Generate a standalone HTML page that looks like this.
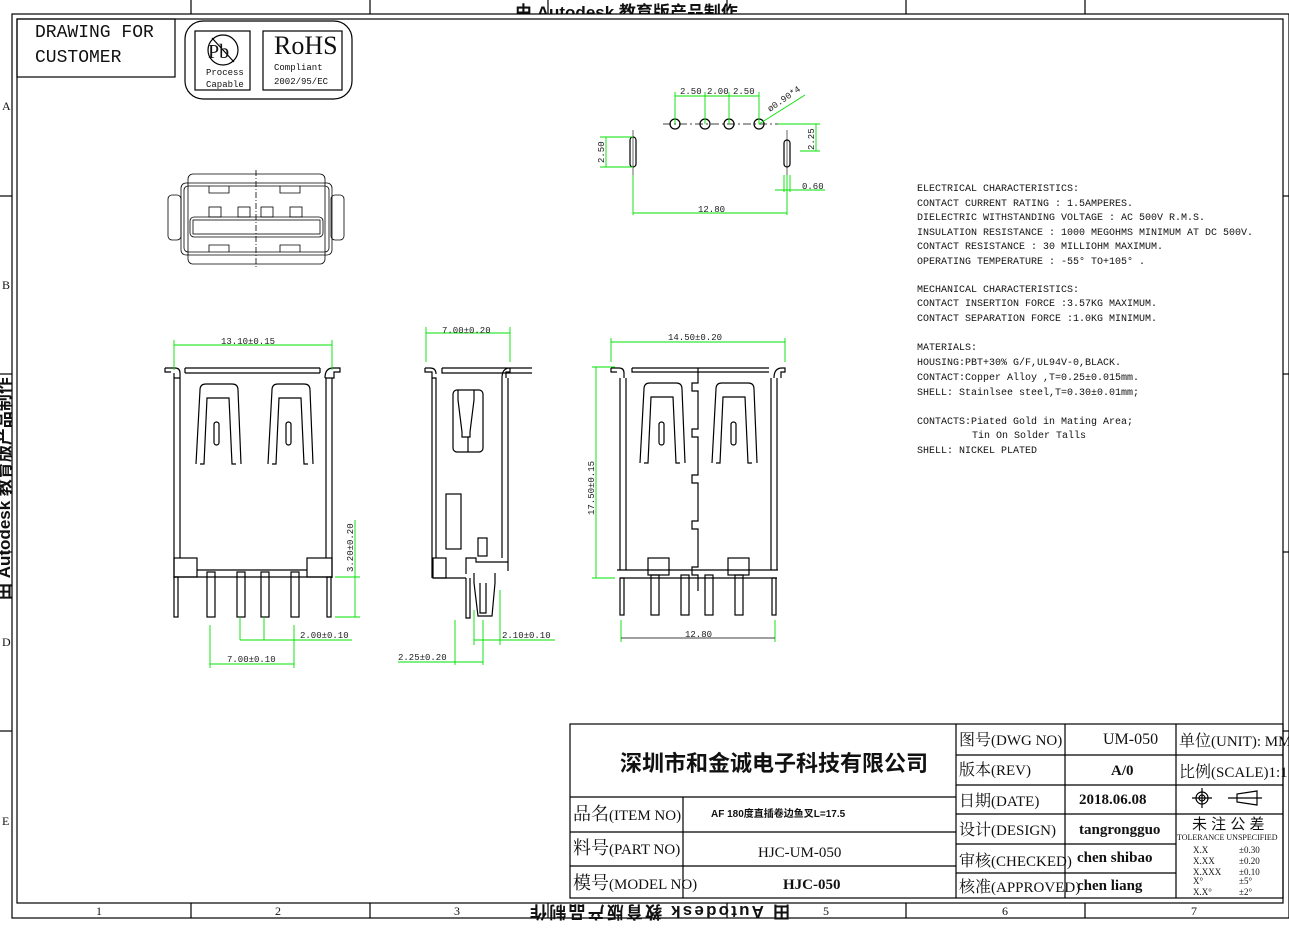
<!DOCTYPE html>
<html><head><meta charset="utf-8"><style>
html,body{margin:0;padding:0;background:#fff;}
svg{display:block;}
.k{stroke:#000;fill:none;stroke-width:1.2}
.t{stroke:#000;fill:none;stroke-width:0.8}
.g{stroke:#00e000;fill:none;stroke-width:0.9}
.gt{fill:#222;font-family:"Liberation Mono",monospace;font-size:9px}
.m{font-family:"Liberation Mono","Noto Sans CJK SC",monospace;fill:#111}
.s{font-family:"Liberation Serif","Noto Serif CJK SC",serif;fill:#111}
.c{font-family:"Liberation Sans","Noto Sans CJK SC",sans-serif;fill:#111}
</style></head><body>
<svg width="1289" height="929" viewBox="0 0 1289 929" xmlns="http://www.w3.org/2000/svg">
<text class="c" font-size="17" font-weight="bold" x="515" y="18">由 Autodesk 教育版产品制作</text>
<rect x="12" y="14" width="1277" height="904" fill="#fff" stroke="none"/>
<!-- frame -->
<rect x="12" y="14" width="1277" height="904" class="k" stroke-width="1"/>
<rect x="17" y="19" width="1266" height="884" class="k" stroke-width="1.5"/>
<g class="k" stroke-width="1">
<line x1="191" y1="0" x2="191" y2="14"/><line x1="370" y1="0" x2="370" y2="14"/><line x1="548" y1="0" x2="548" y2="14"/><line x1="727" y1="0" x2="727" y2="14"/><line x1="906" y1="0" x2="906" y2="14"/><line x1="1085" y1="0" x2="1085" y2="14"/>
<line x1="191" y1="903" x2="191" y2="918"/><line x1="370" y1="903" x2="370" y2="918"/><line x1="548" y1="903" x2="548" y2="918"/><line x1="727" y1="903" x2="727" y2="918"/><line x1="906" y1="903" x2="906" y2="918"/><line x1="1085" y1="903" x2="1085" y2="918"/>
<line x1="0" y1="196" x2="12" y2="196"/><line x1="0" y1="374" x2="12" y2="374"/><line x1="0" y1="552" x2="12" y2="552"/><line x1="0" y1="731" x2="12" y2="731"/>
<line x1="1283" y1="196" x2="1289" y2="196"/><line x1="1283" y1="374" x2="1289" y2="374"/><line x1="1283" y1="552" x2="1289" y2="552"/><line x1="1283" y1="731" x2="1289" y2="731"/>
</g>
<g class="s" font-size="12">
<text x="2" y="110">A</text><text x="2" y="289">B</text><text x="2" y="646">D</text><text x="2" y="825">E</text>
<text x="96" y="915">1</text><text x="275" y="915">2</text><text x="454" y="915">3</text><text x="823" y="915">5</text><text x="1002" y="915">6</text><text x="1191" y="915">7</text>
</g>
<text class="c" font-size="17" font-weight="bold" transform="translate(10,600) rotate(-90)">田 Autodesk 教育版产品制作</text>
<text class="c" font-size="17" font-weight="bold" transform="translate(790,906) rotate(180)" textLength="260">田 Autodesk 教育版产品制作</text>
<!-- title corner -->
<rect x="17" y="19" width="158" height="58" class="k"/>
<text class="m" style="font-size:18px" x="35" y="37">DRAWING FOR</text>
<text class="m" style="font-size:18px" x="35" y="62">CUSTOMER</text>
<rect x="185" y="21" width="167" height="78" rx="18" class="k"/>
<rect x="195" y="31" width="55" height="59" class="k"/>
<rect x="263" y="31" width="79" height="59" class="k"/>
<circle cx="223" cy="50" r="15" class="k"/><line x1="212" y1="38" x2="234" y2="62" class="k"/>
<text class="s" font-size="20" x="208" y="58">Pb</text>
<text class="m" style="font-size:9px" x="206" y="75">Process</text><text class="m" style="font-size:9px" x="206" y="87">Capable</text>
<text class="s" font-size="26" x="274" y="54">RoHS</text>
<text class="m" style="font-size:9px" x="274" y="70">Compliant</text><text class="m" style="font-size:9px" x="274" y="84">2002/95/EC</text>

<!-- end view (top left) -->
<g class="t">
<rect x="188" y="174" width="137" height="90" rx="5"/>
<rect x="181" y="183" width="151" height="72" rx="5"/>
<rect x="184" y="186" width="145" height="66" rx="4"/>
<rect x="168" y="195" width="13" height="45" rx="4"/>
<rect x="331" y="195" width="13" height="45" rx="4"/>
<rect x="190" y="217" width="133" height="20" rx="4"/>
<rect x="193" y="220" width="127" height="14"/>
<rect x="209" y="207" width="12" height="10"/><rect x="238" y="207" width="12" height="10"/><rect x="261" y="207" width="12" height="10"/><rect x="290" y="207" width="12" height="10"/>
<path d="M209 186 v7 h20 v-7 M280 186 v7 h20 v-7 M209 252 v-7 h20 v7 M280 252 v-7 h20 v7"/>
<line x1="256" y1="170" x2="256" y2="268" stroke-dasharray="6,2,1,2"/>
</g>

<!-- footprint -->
<g class="k">
<line x1="663" y1="124" x2="782" y2="124" stroke-dasharray="8,3,2,3" stroke-width="0.8"/>
<circle cx="675" cy="124" r="5"/><circle cx="705" cy="124" r="5"/><circle cx="729" cy="124" r="5"/><circle cx="759" cy="124" r="5"/>
<rect x="630" y="137" width="6" height="30" rx="3"/><rect x="784" y="140" width="6" height="27" rx="3"/>
<line x1="633" y1="130" x2="633" y2="175" stroke-width="0.6"/><line x1="787" y1="130" x2="787" y2="175" stroke-width="0.6"/>
</g>
<g class="g">
<line x1="675" y1="92" x2="675" y2="124"/><line x1="705" y1="92" x2="705" y2="124"/><line x1="729" y1="92" x2="729" y2="124"/><line x1="759" y1="92" x2="759" y2="124"/>
<line x1="675" y1="96" x2="759" y2="96"/>
<line x1="759" y1="124" x2="805" y2="95"/>
<line x1="600" y1="137" x2="633" y2="137"/><line x1="600" y1="167" x2="633" y2="167"/><line x1="606" y1="137" x2="606" y2="167"/>
<line x1="778" y1="124" x2="820" y2="124"/><line x1="800" y1="151" x2="820" y2="151"/><line x1="816" y1="124" x2="816" y2="151"/>
<line x1="633" y1="175" x2="633" y2="215"/><line x1="787" y1="175" x2="787" y2="215"/><line x1="633" y1="213" x2="787" y2="213"/>
<line x1="784" y1="175" x2="784" y2="192"/><line x1="790" y1="175" x2="790" y2="192"/><line x1="775" y1="190" x2="825" y2="190"/>
</g>
<g class="gt">
<text x="680" y="94">2.50</text><text x="707" y="94">2.00</text><text x="733" y="94">2.50</text>
<text x="770" y="112" transform="rotate(-35 770 112)">ø0.90*4</text>
<text transform="translate(604,163) rotate(-90)">2.50</text>
<text transform="translate(814,150) rotate(-90)">2.25</text>
<text x="698" y="212">12.80</text><text x="802" y="189">0.60</text>
</g>

<!-- characteristics -->
<g class="m" style="font-size:10px">
<text x="917" y="191">ELECTRICAL CHARACTERISTICS:</text>
<text x="917" y="206">CONTACT CURRENT RATING : 1.5AMPERES.</text>
<text x="917" y="220">DIELECTRIC WITHSTANDING VOLTAGE : AC 500V R.M.S.</text>
<text x="917" y="235">INSULATION RESISTANCE : 1000 MEGOHMS MINIMUM AT DC 500V.</text>
<text x="917" y="249">CONTACT RESISTANCE : 30 MILLIOHM MAXIMUM.</text>
<text x="917" y="264">OPERATING TEMPERATURE :  -55°  TO+105° .</text>
<text x="917" y="292">MECHANICAL CHARACTERISTICS:</text>
<text x="917" y="306">CONTACT INSERTION FORCE :3.57KG MAXIMUM.</text>
<text x="917" y="321">CONTACT SEPARATION FORCE :1.0KG MINIMUM.</text>
<text x="917" y="350">MATERIALS:</text>
<text x="917" y="365">HOUSING:PBT+30% G/F,UL94V-0,BLACK.</text>
<text x="917" y="380">CONTACT:Copper Alloy ,T=0.25±0.015mm.</text>
<text x="917" y="395">SHELL: Stainlsee steel,T=0.30±0.01mm;</text>
<text x="917" y="424">CONTACTS:Piated Gold in Mating Area;</text>
<text x="972" y="438">Tin On Solder Talls</text>
<text x="917" y="453">SHELL: NICKEL PLATED</text>
</g>

<!-- front view left -->
<g class="k">
<path d="M165 368 h10 q5 0 5 5 v5 M180 378 h-6 v200 M174 378 v-5 M185 368 h135 M185 368 v5 M320 368 v5 M185 373 h135 M325 378 q0-10 8-10 h7 v4 h-6 v6 h-9 M332 378 v200 M326 378 v180 M180 378 v180"/>
<path d="M165 368 v4 h6"/>
<rect x="174" y="558" width="23" height="19"/><rect x="307" y="558" width="25" height="19"/>
<line x1="197" y1="570" x2="307" y2="570"/><line x1="174" y1="577" x2="332" y2="577"/>
<rect x="174" y="577" width="4" height="40"/><rect x="327" y="577" width="4" height="40"/>
<rect x="207" y="572" width="8" height="45"/><rect x="237" y="572" width="8" height="45"/><rect x="261" y="572" width="8" height="45"/><rect x="291" y="572" width="8" height="45"/>
<path d="M196 464 l4 -74 q0-6 6-6 h26 q6 0 6 6 l3 74 M200 464 h4 l3-66 h22 l3 66 h4"/>
<path d="M268 464 l4 -74 q0-6 6-6 h26 q6 0 6 6 l3 74 M272 464 h4 l3-66 h22 l3 66 h4"/>
<rect x="214" y="422" width="5" height="23" rx="2.5"/><rect x="286" y="422" width="5" height="23" rx="2.5"/>
</g>
<g class="g">
<line x1="174" y1="340" x2="174" y2="370"/><line x1="332" y1="340" x2="332" y2="370"/><line x1="174" y1="345" x2="332" y2="345"/>
<line x1="335" y1="577" x2="360" y2="577"/><line x1="335" y1="617" x2="360" y2="617"/><line x1="355" y1="520" x2="355" y2="617"/>
<line x1="240" y1="617" x2="240" y2="640"/><line x1="264" y1="617" x2="264" y2="640"/><line x1="240" y1="640" x2="352" y2="640"/>
<line x1="210" y1="625" x2="210" y2="668"/><line x1="294" y1="625" x2="294" y2="668"/><line x1="210" y1="664" x2="294" y2="664"/>
</g>
<g class="gt">
<text x="221" y="344">13.10±0.15</text>
<text transform="translate(353,572) rotate(-90)">3.20±0.20</text>
<text x="300" y="638">2.00±0.10</text><text x="227" y="662">7.00±0.10</text>
</g>

<!-- side view -->
<g class="k">
<path d="M425 368 v4 h7 v6 h4 v180 M432 378 v200 M425 368 h5 q6 0 6 6 M442 368 h90 M442 368 v5 h90 M502 378 q0-10 8-10 h0 v4 h-3 M510 368 v4 h-4 v6 M502 378 v180 M508 378 v193 M433 578 h33 M466 574 v-16 h10 v4 h32"/>
<rect x="433" y="558" width="13" height="20"/>
<rect x="453" y="390" width="30" height="62" rx="4"/>
<path d="M458 390 v10 l4 32 v5 h8 v-5 l4 -32 v-10 M468 437 v15"/>
<rect x="446" y="494" width="15" height="55"/><rect x="478" y="538" width="9" height="18"/>
<path d="M466 578 v40 h4 v-40 M474 573 v10 l4 33 h14 l3-33 v-10 M480 583 v30 h6 v-30"/>
</g>
<g class="g">
<line x1="426" y1="327" x2="426" y2="362"/><line x1="510" y1="327" x2="510" y2="362"/><line x1="426" y1="333" x2="510" y2="333"/>
<line x1="474" y1="610" x2="474" y2="645"/><line x1="500" y1="590" x2="500" y2="645"/><line x1="474" y1="640" x2="555" y2="640"/>
<line x1="455" y1="620" x2="455" y2="665"/><line x1="483" y1="620" x2="483" y2="665"/><line x1="398" y1="662" x2="483" y2="662"/>
</g>
<g class="gt">
<text x="442" y="333">7.00±0.20</text><text x="502" y="638">2.10±0.10</text><text x="398" y="660">2.25±0.20</text>
</g>

<!-- right view -->
<g class="k">
<path d="M611 368 h8 q5 0 5 5 v5 M611 368 v4 h6 M620 378 v192 M626 378 v192 M632 368 h137 M632 368 v4 h137 M774 378 q0-10 8-10 h3 v4 h-4 v6 M777 378 v192 M771 378 v192 M617 570 h161 M620 578 h157"/>
<path d="M698 368 v15 h-6 v8 h6 v38 h-6 v8 h6 v38 h-6 v8 h6 v38 h-6 v8 h6 v38 h-6 v8 h6 v16"/>
<rect x="648" y="558" width="21" height="17"/><rect x="728" y="558" width="21" height="17"/>
<rect x="651" y="575" width="8" height="40"/><rect x="681" y="575" width="8" height="40"/><rect x="705" y="575" width="8" height="40"/><rect x="735" y="575" width="8" height="40"/>
<rect x="620" y="578" width="4" height="37"/><rect x="772" y="578" width="4" height="37"/>
<path d="M640 463 l4 -74 q0-6 6-6 h26 q6 0 6 6 l3 74 M644 463 h4 l3-66 h22 l3 66 h4"/>
<path d="M712 463 l4 -74 q0-6 6-6 h26 q6 0 6 6 l3 74 M716 463 h4 l3-66 h22 l3 66 h4"/>
<rect x="659" y="422" width="5" height="23" rx="2.5"/><rect x="731" y="422" width="5" height="23" rx="2.5"/>
</g>
<g class="g">
<line x1="611" y1="338" x2="611" y2="362"/><line x1="785" y1="338" x2="785" y2="362"/><line x1="611" y1="342" x2="785" y2="342"/>
<line x1="592" y1="367" x2="615" y2="367"/><line x1="592" y1="578" x2="615" y2="578"/><line x1="596" y1="367" x2="596" y2="578"/>
<line x1="621" y1="620" x2="621" y2="642"/><line x1="775" y1="620" x2="775" y2="642"/>
</g>
<line x1="621" y1="638" x2="775" y2="638" stroke="#000" stroke-width="0.8"/>
<g class="gt">
<text x="668" y="340">14.50±0.20</text>
<text transform="translate(594,515) rotate(-90)">17.50±0.15</text>
<text x="685" y="637">12.80</text>
</g>

<!-- title block -->
<g class="k" stroke-width="1.2">
<rect x="570" y="724" width="713" height="174"/>
<line x1="956" y1="724" x2="956" y2="898"/><line x1="1065" y1="724" x2="1065" y2="898"/><line x1="1176" y1="724" x2="1176" y2="898"/>
<line x1="570" y1="797" x2="956" y2="797"/><line x1="570" y1="832" x2="956" y2="832"/><line x1="570" y1="866" x2="956" y2="866"/>
<line x1="683" y1="797" x2="683" y2="898"/>
<line x1="956" y1="755" x2="1283" y2="755"/><line x1="956" y1="785" x2="1283" y2="785"/><line x1="956" y1="814" x2="1283" y2="814"/>
<line x1="956" y1="844" x2="1176" y2="844"/><line x1="956" y1="873" x2="1176" y2="873"/>
</g>
<text class="c" font-size="22" x="620" y="771" font-weight="bold">深圳市和金诚电子科技有限公司</text>
<g class="s" font-size="15">
<text x="573" y="820"><tspan font-size="18">品名</tspan>(ITEM NO)</text>
<text x="573" y="854"><tspan font-size="18">料号</tspan>(PART NO)</text>
<text x="573" y="889"><tspan font-size="18">模号</tspan>(MODEL NO)</text>
<text x="758" y="857">HJC-UM-050</text>
<text x="959" y="745"><tspan font-size="16">图号</tspan>(DWG NO)</text>
<text x="959" y="775"><tspan font-size="16">版本</tspan>(REV)</text>
<text x="959" y="806"><tspan font-size="16">日期</tspan>(DATE)</text>
<text x="959" y="835"><tspan font-size="16">设计</tspan>(DESIGN)</text>
<text x="959" y="866"><tspan font-size="16">审核</tspan>(CHECKED)</text>
<text x="959" y="892"><tspan font-size="16">核准</tspan>(APPROVED)</text>
<text x="1103" y="744" font-size="16">UM-050</text>
<text x="1179" y="746"><tspan font-size="16">单位</tspan>(UNIT): MM</text>
<text x="1179" y="777"><tspan font-size="16">比例</tspan>(SCALE)1:1</text>
</g>
<g class="s" font-weight="bold" font-size="15">
<text x="1111" y="775">A/0</text><text x="1079" y="804">2018.06.08</text><text x="1079" y="834">tangrongguo</text>
<text x="1077" y="862">chen shibao</text><text x="1077" y="890">chen liang</text><text x="783" y="889">HJC-050</text>
</g>
<text class="c" font-size="10" font-weight="bold" x="711" y="817">AF 180度直插卷边鱼叉L=17.5</text>
<g class="k" stroke-width="1">
<circle cx="1202" cy="798" r="6"/><circle cx="1202" cy="798" r="3"/>
<line x1="1192" y1="798" x2="1212" y2="798"/><line x1="1202" y1="788" x2="1202" y2="808"/>
<path d="M1228 798 h34 M1237 794 v8 l20 3 v-14 z"/>
</g>
<text class="c" font-size="15" x="1192" y="829" fill="#444">未 注 公 差</text>
<text class="s" font-size="8" x="1177" y="840">TOLERANCE UNSPECIFIED</text>
<g class="s" font-size="9">
<text x="1193" y="853">X.X</text><text x="1239" y="853">±0.30</text>
<text x="1193" y="864">X.XX</text><text x="1239" y="864">±0.20</text>
<text x="1193" y="875">X.XXX</text><text x="1239" y="875">±0.10</text>
<text x="1193" y="884">X°</text><text x="1239" y="884">±5°</text>
<text x="1193" y="895">X.X°</text><text x="1239" y="895">±2°</text>
</g>
</svg>
</body></html>
